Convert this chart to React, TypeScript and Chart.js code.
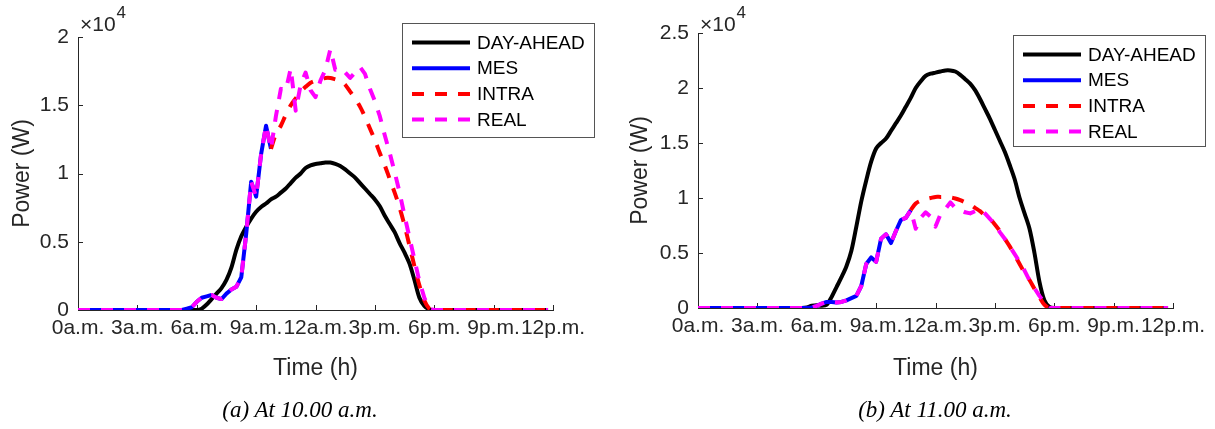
import React, { useEffect, useRef } from 'react';
import { Chart, registerables } from 'chart.js';

Chart.register(...registerables);

// ---------------- DATA ----------------
const TIME = [0, 5.25, 5.5, 5.75, 6, 6.25, 6.5, 6.75, 7, 7.25, 7.5, 7.75, 8, 8.25, 8.5, 8.75, 9, 9.25, 9.5, 9.75, 10, 10.25, 10.5, 10.75, 11, 11.25, 11.5, 11.75, 12, 12.25, 12.5, 12.75, 13, 13.25, 13.5, 13.75, 14, 14.25, 14.5, 14.75, 15, 15.25, 15.5, 15.75, 16, 16.25, 16.5, 16.75, 17, 17.25, 17.5, 17.75, 18, 23.75];

const X_TICK_LABELS = ['0a.m.', '3a.m.', '6a.m.', '9a.m.', '12a.m.', '3p.m.', '6p.m.', '9p.m.', '12p.m.'];

const SERIES_LABELS = ['DAY-AHEAD', 'MES', 'INTRA', 'REAL'];

// (a) At 10.00 a.m.
const A_DAY_AHEAD = [0, 0, 0, 0, 0, 100, 400, 800, 1200, 1600, 2200, 3100, 4400, 5400, 6100, 6700, 7200, 7550, 7800, 8100, 8300, 8600, 8900, 9300, 9700, 10000, 10400, 10600, 10700, 10750, 10800, 10800, 10700, 10550, 10300, 10000, 9700, 9300, 8900, 8500, 8100, 7600, 6900, 6300, 5700, 4900, 4200, 3400, 2200, 900, 300, 50, 0, 0];
const A_MES = [0, 0, 100, 200, 600, 900, 1000, 1100, 900, 800, 1200, 1500, 1700, 2400, 5600, 9400, 8300, 11400, 13500, 11800, null, null, null, null, null, null, null, null, null, null, null, null, null, null, null, null, null, null, null, null, null, null, null, null, null, null, null, null, null, null, null, null, null, null];
const A_INTRA = [null, null, null, null, null, null, null, null, null, null, null, null, null, null, null, null, null, null, null, 11800, 12900, 13500, 14300, 15000, 15500, 16000, 16350, 16650, 16800, 16900, 17000, 17000, 16900, 16800, 16500, 16000, 15500, 14900, 14150, 13300, 12450, 11500, 10600, 9600, 8600, 7500, 6200, 4700, 3200, 1800, 700, 100, 0, 0];
const A_REAL = [0, 0, 100, 200, 600, 900, 1000, 1100, 900, 800, 1200, 1500, 1700, 2400, 5600, 9400, 8300, 11400, 13500, 11800, 14200, 16200, 16100, 17700, 14600, 16500, 17400, 16100, 15600, 16800, 17600, 19100, 17600, 17700, 17400, 17000, 17400, 17800, 17300, 16200, 15300, 14200, 12800, 11500, 10100, 8600, 6900, 5300, 3700, 2100, 900, 100, 0, 0];

// (b) At 11.00 a.m.
const B_DAY_AHEAD = [0, 0, 50, 200, 250, 200, 300, 1000, 1900, 2800, 3800, 5200, 7400, 9700, 11600, 13300, 14500, 15000, 15400, 16100, 16800, 17500, 18300, 19100, 20000, 20600, 21100, 21300, 21400, 21500, 21600, 21600, 21500, 21200, 20800, 20400, 19800, 19000, 18100, 17200, 16200, 15200, 14200, 13000, 11700, 10000, 8600, 7200, 5000, 2400, 700, 100, 0, 0];
const B_MES = [0, 0, 0, 50, 200, 400, 550, 550, 500, 550, 700, 900, 1100, 2000, 4000, 4600, 4200, 6300, 6700, 5900, 7000, 8000, 8200, 8900, null, null, null, null, null, null, null, null, null, null, null, null, null, null, null, null, null, null, null, null, null, null, null, null, null, null, null, null, null, null];
const B_INTRA = [null, null, null, null, null, null, null, null, null, null, null, null, null, null, null, null, null, null, null, null, null, null, null, 8900, 9500, 9750, 9900, 10000, 10100, 10100, 10100, 10050, 9950, 9800, 9600, 9400, 9100, 8800, 8400, 8100, 7600, 7000, 6300, 5600, 4800, 4000, 3200, 2550, 1750, 1000, 300, 0, 0, 0];
const B_REAL = [0, 0, 0, 50, 200, 400, 550, 550, 500, 550, 700, 900, 1100, 2000, 4000, 4600, 4200, 6300, 6700, 5900, 7000, 8000, 8200, 8900, 7200, 8200, 8700, 8300, 7400, 8500, 9000, 9600, 9100, 8900, 8700, 8600, 8800, 9000, 8600, 8100, 7600, 6900, 6300, 5600, 4900, 4200, 3400, 2500, 1800, 1100, 500, 0, 0, 0];

// ---------------- STYLE ----------------
const AXIS_COLOR = '#262626';
const SANS = '"Liberation Sans", Arial, Helvetica, sans-serif';
const COLORS = ['#000000', '#0000ff', '#ff0000', '#ff00ff'];
const DASHES: number[][] = [[], [], [12, 11], [12, 11]];
const LINE_W = 4;

const toPoints = (ys: (number | null)[]) => TIME.map((t, i) => ({ x: t, y: ys[i] }));

const overlayPlugin = {
  id: 'matlabOverlay',
  beforeDatasetsDraw(chart: any) {
    const { ctx, chartArea, scales } = chart;
    ctx.save();
    ctx.strokeStyle = AXIS_COLOR;
    ctx.lineWidth = 1;
    ctx.beginPath();
    for (const t of scales.x.ticks) {
      const px = Math.round(scales.x.getPixelForValue(t.value)) + 0.5;
      ctx.moveTo(px, chartArea.bottom);
      ctx.lineTo(px, chartArea.bottom - 5);
    }
    for (const t of scales.y.ticks) {
      const py = Math.round(scales.y.getPixelForValue(t.value)) + 0.5;
      ctx.moveTo(chartArea.left, py);
      ctx.lineTo(chartArea.left + 5, py);
    }
    ctx.stroke();
    ctx.restore();
  },
  afterDraw(chart: any, _args: any, opts: any) {
    const { ctx, chartArea } = chart;
    ctx.save();
    // exponent label
    ctx.fillStyle = AXIS_COLOR;
    ctx.textBaseline = 'alphabetic';
    ctx.textAlign = 'left';
    ctx.font = `21px ${SANS}`;
    const ex = chartArea.left + 2;
    ctx.fillText('×10', ex, 30.5);
    const w = ctx.measureText('×10').width;
    ctx.font = `17px ${SANS}`;
    ctx.fillText('4', ex + w + 1, 18);

    // legend
    const b = opts.box;
    ctx.fillStyle = '#ffffff';
    ctx.fillRect(b.x, b.y, b.w, b.h);
    ctx.strokeStyle = '#555555';
    ctx.lineWidth = 1;
    ctx.strokeRect(Math.round(b.x) + 0.5, Math.round(b.y) + 0.5, b.w, b.h);
    chart.data.datasets.forEach((ds: any) => {
      const li = SERIES_LABELS.indexOf(ds.label);
      const y = b.y + 19.5 + li * 25.7;
      ctx.beginPath();
      ctx.strokeStyle = ds.borderColor;
      ctx.lineWidth = ds.borderWidth;
      ctx.setLineDash(ds.borderDash || []);
      ctx.lineCap = 'butt';
      ctx.moveTo(b.x + 10, y);
      ctx.lineTo(b.x + 68, y);
      ctx.stroke();
      ctx.setLineDash([]);
      ctx.fillStyle = '#000000';
      ctx.font = `19px ${SANS}`;
      ctx.textBaseline = 'middle';
      ctx.fillText(ds.label, b.x + 75, y + 1);
    });
    ctx.restore();
  },
};

type Cfg = {
  series: (number | null)[][];
  yMax: number;
  yAxisWidth: number;
  xAxisHeight: number;
  padTop: number;
  padRight: number;
  yTitlePad: number;
  box: { x: number; y: number; w: number; h: number };
};

function PowerChart({ cfg, width, height }: { cfg: Cfg; width: number; height: number }) {
  const ref = useRef<HTMLCanvasElement | null>(null);
  useEffect(() => {
    if (!ref.current) return;
    const drawOrder = [3, 2, 1, 0]; // lower order is drawn on top
    const datasets = SERIES_LABELS.map((label, i) => ({
      label,
      data: toPoints(cfg.series[i]),
      borderColor: COLORS[i],
      backgroundColor: COLORS[i],
      borderWidth: LINE_W,
      borderDash: DASHES[i],
      borderCapStyle: 'butt' as const,
      borderJoinStyle: 'round' as const,
      pointRadius: 0,
      tension: i === 0 || i === 2 ? 0.3 : 0,
      spanGaps: false,
      fill: false,
      order: drawOrder[i],
    }));
    const chart = new Chart(ref.current, {
      type: 'line',
      data: { datasets },
      options: {
        animation: false,
        responsive: false,
        devicePixelRatio: 1,
        layout: { padding: { left: 0, right: cfg.padRight, top: cfg.padTop, bottom: 0 } },
        plugins: {
          legend: { display: false },
          tooltip: { enabled: false },
          matlabOverlay: { box: cfg.box },
        } as any,
        scales: {
          x: {
            type: 'linear',
            min: 0,
            max: 24,
            grid: { display: false, drawTicks: false },
            border: { display: true, color: AXIS_COLOR, width: 1 },
            ticks: {
              stepSize: 3,
              autoSkip: false,
              maxRotation: 0,
              minRotation: 0,
              padding: 6,
              color: AXIS_COLOR,
              font: { family: SANS, size: 21 },
              callback: (v: any) => X_TICK_LABELS[Math.round(Number(v) / 3)],
            },
            title: {
              display: true,
              text: 'Time (h)',
              color: AXIS_COLOR,
              font: { family: SANS, size: 23 },
              padding: { top: 0, bottom: 47 },
            },
            afterFit: (s: any) => {
              s.height = cfg.xAxisHeight;
            },
          },
          y: {
            type: 'linear',
            min: 0,
            max: cfg.yMax,
            grid: { display: false, drawTicks: false },
            border: { display: true, color: AXIS_COLOR, width: 1 },
            ticks: {
              stepSize: 5000,
              padding: 9,
              color: AXIS_COLOR,
              font: { family: SANS, size: 21 },
              callback: (v: any) => String(Number(v) / 10000),
            },
            title: {
              display: true,
              text: 'Power (W)',
              color: AXIS_COLOR,
              font: { family: SANS, size: 23 },
              padding: { top: cfg.yTitlePad, bottom: 0 },
            },
            afterFit: (s: any) => {
              s.width = cfg.yAxisWidth;
            },
          },
        },
      },
      plugins: [overlayPlugin],
    });
    return () => chart.destroy();
  }, [cfg]);
  return <canvas ref={ref} width={width} height={height} style={{ display: 'block', width, height }} />;
}

const CFG_A: Cfg = {
  series: [A_DAY_AHEAD, A_MES, A_INTRA, A_REAL],
  yMax: 20000,
  yAxisWidth: 78,
  xAxisHeight: 119,
  padTop: 37,
  padRight: 54,
  yTitlePad: 9,
  box: { x: 402, y: 23, w: 192, h: 114 },
};

const CFG_B: Cfg = {
  series: [B_DAY_AHEAD, B_MES, B_INTRA, B_REAL],
  yMax: 25000,
  yAxisWidth: 91,
  xAxisHeight: 121,
  padTop: 33,
  padRight: 42,
  yTitlePad: 20,
  box: { x: 406, y: 35, w: 192, h: 111 },
};

const captionStyle: React.CSSProperties = {
  position: 'absolute',
  top: 396,
  width: 400,
  textAlign: 'center',
  fontFamily: '"Liberation Serif", "Times New Roman", serif',
  fontStyle: 'italic',
  fontSize: 23,
  lineHeight: '28px',
  color: '#000',
};

export default function App() {
  return (
    <div style={{ position: 'absolute', left: 0, top: 0, width: 1215, height: 429, background: '#fff', overflow: 'hidden' }}>
      <div style={{ position: 'absolute', left: 0, top: 0 }}>
        <PowerChart cfg={CFG_A} width={607} height={429} />
      </div>
      <div style={{ position: 'absolute', left: 607, top: 0 }}>
        <PowerChart cfg={CFG_B} width={608} height={429} />
      </div>
      <div style={{ ...captionStyle, left: 100 }}>(a) At 10.00 a.m.</div>
      <div style={{ ...captionStyle, left: 735 }}>(b) At 11.00 a.m.</div>
    </div>
  );
}
